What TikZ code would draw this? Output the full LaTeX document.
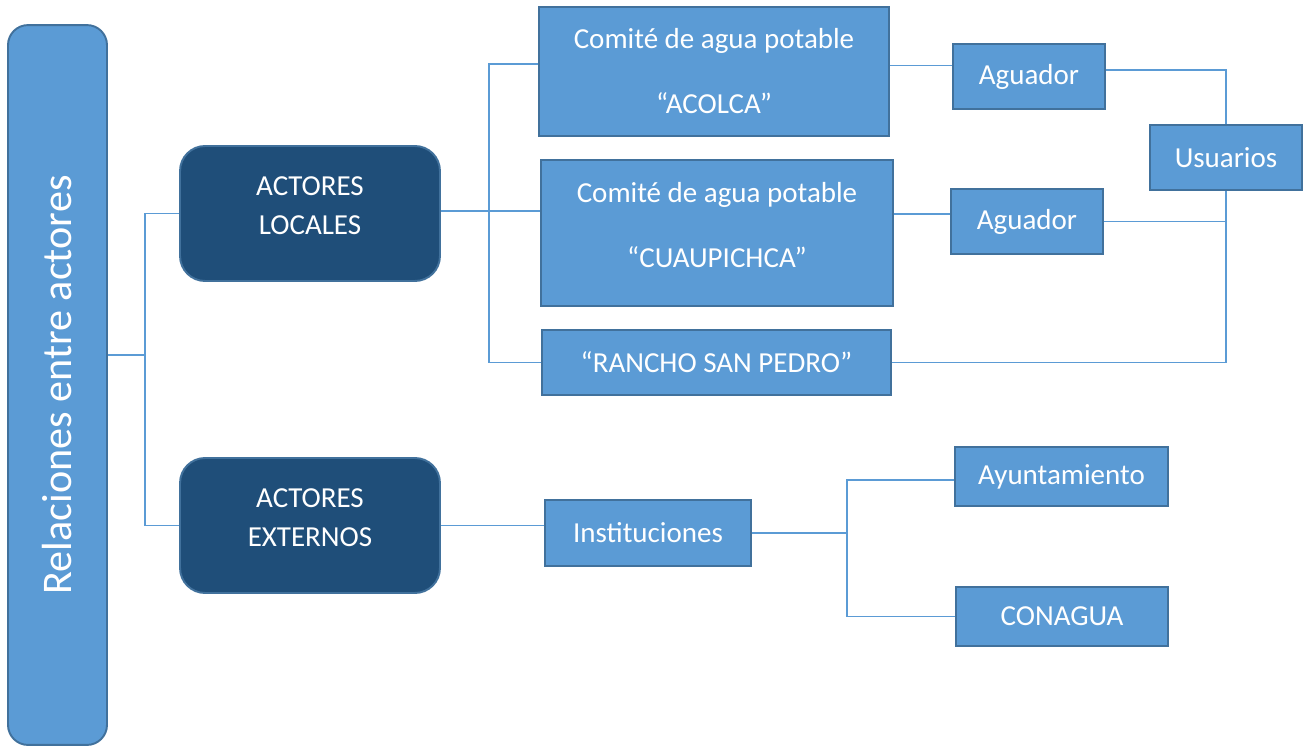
\documentclass[tikz,border=0pt]{standalone}
\usepackage{fontspec}
\setmainfont{Carlito}
\usepackage{xcolor}
\usetikzlibrary{positioning}

\definecolor{azulclaro}{HTML}{5B9BD5}
\definecolor{azulborde}{HTML}{41719C}
\definecolor{azuloscuro}{HTML}{1F4E79}

\tikzset{
  caja/.style={draw=azulborde, fill=azulclaro, line width=1.1pt, text=white,
    inner sep=0pt, align=center, font=\fontsize{16.5}{20}\selectfont},
  actor/.style={caja, fill=azuloscuro, rounded corners=0.5cm, text depth=9pt},
  linea/.style={draw=azulclaro, line width=0.8pt}
}

\begin{document}
\begin{tikzpicture}[x=0.02cm, y=-0.02cm]

\useasboundingbox (0,0) rectangle (1306,747);

% Caja principal
\node[caja, rounded corners=0.4cm, minimum width=1.98cm, minimum height=14.4cm] (rel) at (57.5,385)
  {\rotatebox{90}{\fontsize{24}{28}\selectfont Relaciones entre actores}};

% Actores
\node[actor, minimum width=5.2cm, minimum height=2.7cm] (loc) at (310,213.5) {ACTORES\\[2.7pt]LOCALES};
\node[actor, minimum width=5.2cm, minimum height=2.7cm] (ext) at (310,525.5) {ACTORES\\[2.7pt]EXTERNOS};

% Comites
\node[caja, minimum width=7cm, minimum height=2.58cm] (acolca) at (714,71.5) {Comité de agua potable\\[17pt]“ACOLCA”};
\node[caja, minimum width=7.04cm, minimum height=2.92cm, text depth=9pt] (cuau) at (717,233) {Comité de agua potable\\[17pt]“CUAUPICHCA”};
\node[caja, minimum width=6.98cm, minimum height=1.3cm] (rancho) at (716.5,362.5) {“RANCHO SAN PEDRO”};

% Aguadores y usuarios
\node[caja, minimum width=3.04cm, minimum height=1.3cm] (ag1) at (1029,76.5) {Aguador};
\node[caja, minimum width=3.04cm, minimum height=1.3cm] (ag2) at (1027,221.5) {Aguador};
\node[caja, minimum width=3.04cm, minimum height=1.3cm] (usu) at (1226,157.5) {Usuarios};

% Instituciones
\node[caja, minimum width=4.12cm, minimum height=1.32cm] (inst) at (648,533) {Instituciones};
\node[caja, minimum width=4.26cm, minimum height=1.18cm] (ayu) at (1061.5,476.5) {Ayuntamiento};
\node[caja, minimum width=4.24cm, minimum height=1.18cm] (cona) at (1062,616.5) {CONAGUA};

% Conectores
\coordinate (b1) at (145,355);
\coordinate (b2) at (489,211);
\coordinate (b3) at (847,533);

\draw[linea] (rel.east |- b1) -- (b1);
\draw[linea] (loc.west) -| (b1);
\draw[linea] (ext.west) -| (b1);

\draw[linea] (loc.east |- b2) -- (b2);
\draw[linea] (b2) -- (cuau.west |- b2);
\draw[linea] ([yshift=4.2pt]acolca.west) -| (b2);
\draw[linea] (rancho.west) -| (b2);

\draw[linea] ([yshift=6.2pt]acolca.east |- ag1.west) -- ([yshift=6.2pt]ag1.west);
\draw[linea] ([yshift=4.2pt]cuau.east |- ag2.west) -- ([yshift=4.2pt]ag2.west);
\draw[linea] ([yshift=3.6pt]ag1.east) -| (usu.north);
\draw[linea] (ag2.east) -| (usu.south);
\draw[linea] (rancho.east) -| (usu.south);

\draw[linea] (ext.east) -- (inst.west |- ext.east);
\draw[linea] (inst.east) -- (b3);
\draw[linea] ([yshift=-2pt]ayu.west) -| (b3);
\draw[linea] (cona.west) -| (b3);

\end{tikzpicture}
\end{document}
